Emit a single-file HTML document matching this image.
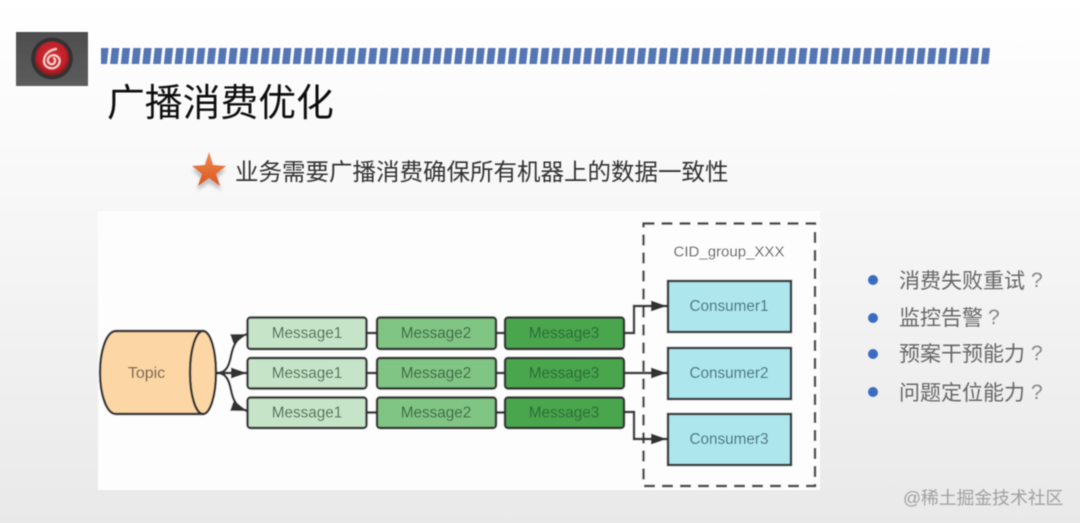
<!DOCTYPE html>
<html><head><meta charset="utf-8"><style>
html,body{margin:0;padding:0;width:1080px;height:523px;overflow:hidden;background:#f0f0f0}
svg{display:block}
.cj{font-family:"Liberation Sans","Noto Sans CJK SC",sans-serif}
.la{font-family:"Liberation Sans",sans-serif;font-size:15.3px;text-anchor:middle;dominant-baseline:central}
</style></head><body>
<svg width="1080" height="523" viewBox="0 0 1080 523" xmlns="http://www.w3.org/2000/svg">
<defs>
<linearGradient id="bg" x1="0" y1="0" x2="0" y2="1"><stop offset="0" stop-color="#ffffff"/><stop offset=".3" stop-color="#f9f9f9"/><stop offset="1" stop-color="#e9e9e9"/></linearGradient>
<radialGradient id="red" cx=".5" cy=".45" r=".55"><stop offset="0" stop-color="#d83038"/><stop offset=".75" stop-color="#c1202a"/><stop offset="1" stop-color="#7c1a1e"/></radialGradient>
<linearGradient id="logo" x1="0" y1="0" x2="0" y2="1"><stop offset="0" stop-color="#4e4e4e"/><stop offset="1" stop-color="#5c5c5c"/></linearGradient>
<linearGradient id="star" x1="0" y1="0" x2="0" y2="1"><stop offset="0" stop-color="#f08a50"/><stop offset="1" stop-color="#d9581e"/></linearGradient>
<pattern id="st" width="10.75" height="16" patternUnits="userSpaceOnUse" patternTransform="translate(101 48) skewX(-6)"><rect width="7.6" height="16" fill="#5476b4"/></pattern>
<filter id="b"><feGaussianBlur stdDeviation=".5"/></filter>
<filter id="s"><feGaussianBlur stdDeviation="1.5"/></filter>
<marker id="ah" markerUnits="userSpaceOnUse" markerWidth="18" markerHeight="14" refX="16" refY="7" orient="auto"><path d="M0 1.500L16 7L0 12.500Z" fill="#333"/></marker>
</defs>
<rect width="1080" height="523" fill="url(#bg)"/>
<g filter="url(#b)">
<rect x="16" y="32" width="72" height="54" fill="url(#logo)"/>
<circle cx="52" cy="58.500" r="21" fill="#333"/>
<circle cx="52" cy="58.500" r="17" fill="url(#red)"/>
<path d="M56 49C49 50 44 55 44 61C44 67 50 69 54 68C60 66 61 60 58 57C55 54 49 55 48 59C47 62 50 65 53 64C55 63 56 60 54 58" fill="none" stroke="#f6d4cf" stroke-width="1.900" stroke-linecap="round"/>
<rect x="101" y="48" width="889" height="16" fill="url(#st)"/>
<text x="107" y="116" class="cj" font-size="37.800" fill="#111">广播消费优化</text>
<polygon points="209,155 214,167 226,168 217,176 221,188 209,181 197,188 201,176 192,168 204,167" fill="#888" opacity=".5" transform="translate(0 2)" filter="url(#s)"/>
<polygon points="209,152 213,165 226,166 216,174 220,186 209,178 198,186 202,174 192,166 205,165" fill="url(#star)"/>
<text x="235" y="180" class="cj" font-size="23.500" fill="#333">业务需要广播消费确保所有机器上的数据一致性</text>
<rect x="98" y="211" width="722" height="279" fill="#fdfdfd"/>
<rect x="643.500" y="223.500" width="171.500" height="262.500" fill="none" stroke="#444" stroke-width="2.400" stroke-dasharray="11 7"/>
<text x="729" y="252" class="la" style="font-size:15px" fill="#555">CID_group_XXX</text>
<g fill="none" stroke="#333" stroke-width="2.400">
<path d="M217 373C226 373 229 366 231 356C233 346 236 338 247 334" marker-end="url(#ah)"/>
<path d="M217 373H247" marker-end="url(#ah)"/>
<path d="M217 373C226 373 229 380 231 390C233 400 236 407 247 411" marker-end="url(#ah)"/>
<path d="M367 333H377M367 373H377M367 412.500H377M496 333H505M496 373H505M496 412.500H505"/>
<path d="M624 333H634V306H667" marker-end="url(#ah)"/>
<path d="M624 373H667" marker-end="url(#ah)"/>
<path d="M624 412H634V439H667" marker-end="url(#ah)"/>
</g>
<path d="M203 331H116C106 331 100 352 100 372.500C100 393 106 414 116 414H203Z" fill="#fcd6a4" stroke="#333" stroke-width="2.400"/>
<ellipse cx="203" cy="372.500" rx="13" ry="41.500" fill="#fcd6a4" stroke="#333" stroke-width="2.400"/>
<text x="146.500" y="373.500" class="la" style="font-size:16px" fill="#6b5848">Topic</text>
<g stroke="#333" stroke-width="2.400">
<g fill="#c6e5c8">
<rect x="247.500" y="317.500" width="119" height="31.500" rx="3"/>
<rect x="247.500" y="358" width="119" height="30.500" rx="3"/>
<rect x="247.500" y="397.500" width="119" height="30.500" rx="3"/>
</g>
<g fill="#80c583">
<rect x="377" y="317.500" width="119" height="31.500" rx="3"/>
<rect x="377" y="358" width="119" height="30.500" rx="3"/>
<rect x="377" y="397.500" width="119" height="30.500" rx="3"/>
</g>
<g fill="#4aa64e">
<rect x="505" y="317.500" width="119" height="31.500" rx="3"/>
<rect x="505" y="358" width="119" height="30.500" rx="3"/>
<rect x="505" y="397.500" width="119" height="30.500" rx="3"/>
</g>
<g fill="#aee6ee">
<rect x="668" y="281" width="123" height="51"/>
<rect x="668" y="348" width="123" height="51"/>
<rect x="668" y="414" width="123" height="51"/>
</g>
</g>
<g>
<text x="307" y="333.500" class="la" fill="#4a6650">Message1</text>
<text x="307" y="373.500" class="la" fill="#4a6650">Message1</text>
<text x="307" y="413" class="la" fill="#4a6650">Message1</text>
<text x="436" y="333.500" class="la" fill="#3d6345">Message2</text>
<text x="436" y="373.500" class="la" fill="#3d6345">Message2</text>
<text x="436" y="413" class="la" fill="#3d6345">Message2</text>
<text x="564" y="333.500" class="la" fill="#2c6a38">Message3</text>
<text x="564" y="373.500" class="la" fill="#2c6a38">Message3</text>
<text x="564" y="413" class="la" fill="#2c6a38">Message3</text>
<text x="729" y="306.500" class="la" fill="#3f6a74">Consumer1</text>
<text x="729" y="373.500" class="la" fill="#3f6a74">Consumer2</text>
<text x="729" y="439.500" class="la" fill="#3f6a74">Consumer3</text>
</g>
<g fill="#3a6cc4">
<circle cx="873" cy="280" r="5"/><circle cx="873" cy="318" r="5"/><circle cx="873" cy="354" r="5"/><circle cx="873" cy="392" r="5"/>
</g>
<g class="cj" font-size="21" fill="#666">
<text x="899" y="288">消费失败重试</text>
<text x="899" y="325">监控告警</text>
<text x="899" y="361">预案干预能力</text>
<text x="899" y="400">问题定位能力</text>
</g>
<g class="cj" font-size="21" fill="#888">
<text x="1031" y="287">?</text>
<text x="988" y="324">?</text>
<text x="1031" y="360">?</text>
<text x="1031" y="399">?</text>
</g>
<text x="903" y="504" class="cj" font-size="17.800" fill="#a0a0a0">@稀土掘金技术社区</text>
</g>
</svg>
</body></html>
